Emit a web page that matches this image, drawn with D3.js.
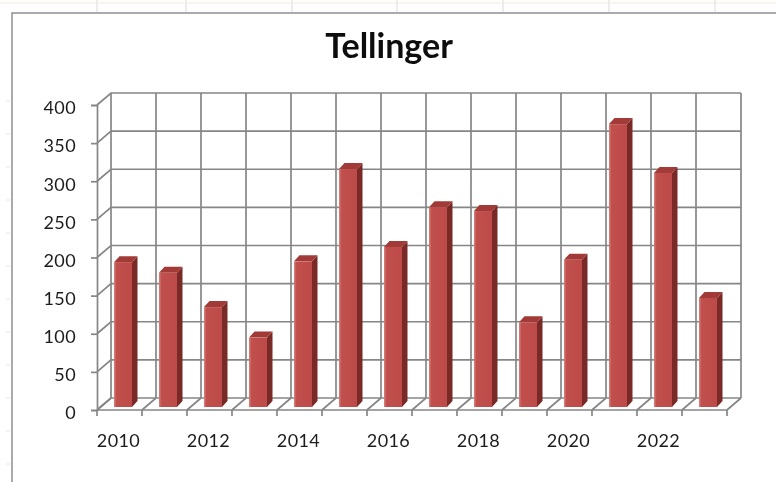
<!DOCTYPE html>
<html>
<head>
<meta charset="utf-8">
<script src="https://cdn.jsdelivr.net/npm/d3@7"></script>
<style>
  html, body { margin: 0; padding: 0; background: #fff; }
  svg { display: block; }
  text { font-family: Lato, "Open Sans", sans-serif; fill: #222; }
</style>
</head>
<body>
<div id="chart"></div>
<script>
// values
var years = [2010, 2011, 2012, 2013, 2014, 2015, 2016, 2017, 2018, 2019, 2020, 2021, 2022, 2023];
var counts = [190, 176, 131, 91, 191, 312, 210, 262, 257, 111, 193, 371, 307, 143];
var yTicks = [0, 50, 100, 150, 200, 250, 300, 350, 400];
var sheetCols = [97, 186, 292, 397, 503, 609, 715];
var sheetRows = [21, 54, 87, 120, 153, 186, 219, 252, 285, 318, 351, 384, 417, 450];

var width = 776, height = 482;
var depthX = 14, depthY = -12;   // how far the back wall is pushed
var barW = 18, sideW = 5.5, sideH = 6;

var svg = d3.select("#chart").append("svg")
  .attr("width", width).attr("height", height);

var defs = svg.append("defs");
defs.append("filter").attr("id", "soft")
  .append("feGaussianBlur").attr("stdDeviation", 0.5);
var grad = defs.append("linearGradient").attr("id", "barFront");
grad.append("stop").attr("offset", "0%").attr("stop-color", "#d8837f");
grad.append("stop").attr("offset", "14%").attr("stop-color", "#c0504d");
grad.append("stop").attr("offset", "100%").attr("stop-color", "#bd4b48");

var root = svg.append("g").attr("filter", "url(#soft)");

// spreadsheet behind the chart
root.selectAll(".cell").data(sheetCols).enter().append("line")
  .attr("x1", function(d) { return d; }).attr("x2", function(d) { return d; })
  .attr("y1", 0).attr("y2", 12)
  .attr("stroke", "#d9d9d9");
root.append("line").attr("x1", 0).attr("x2", width).attr("y1", 3).attr("y2", 3)
  .attr("stroke", "#f6e9dc");
root.selectAll(".row").data(sheetRows).enter().append("line")
  .attr("x1", 6).attr("x2", 10)
  .attr("y1", function(d) { return d + 80; }).attr("y2", function(d) { return d + 80; })
  .attr("stroke", "#e6e6e6");

// chart frame
root.append("path").attr("d", "M12,482V13H776")
  .attr("fill", "none").attr("stroke", "#8f8f8f").attr("stroke-width", 1.5);

var x = d3.scaleBand().domain(years).range([97, 727]);
var y = d3.scaleLinear().domain([0, 400]).range([410, 105]);
var backL = x.range()[0] + depthX, backR = x.range()[1] + depthX;

var grid = root.append("g").attr("fill", "none").attr("stroke", "#868686").attr("stroke-width", 1.7);

// back wall horizontals and the slanted bits on the side wall
yTicks.forEach(function(t) {
  grid.append("path").attr("d", d3.line()([
    [x.range()[0], y(t)], [backL, y(t) + depthY], [backR, y(t) + depthY]
  ]));
});

// back wall verticals + floor lines
years.concat(["end"]).forEach(function(yr) {
  var px = yr === "end" ? x.range()[1] : x(yr);
  grid.append("line")
    .attr("x1", px + depthX).attr("x2", px + depthX)
    .attr("y1", y(400) + depthY).attr("y2", y(0) + depthY);
  grid.append("line")
    .attr("x1", px).attr("x2", px + depthX)
    .attr("y1", y(0)).attr("y2", y(0) + depthY);
});

// bars
var bars = root.selectAll(".bar").data(years).enter().append("g")
  .attr("transform", function(d) {
    return "translate(" + (x(d) + (x.bandwidth() - barW) / 2 + 3.5) + ",0)";
  });
var base = y(0) - 3;
function barTop(i) { return base - (y(0) - y(counts[i])); }

bars.append("path").attr("fill", "#7a2a28")
  .attr("d", function(d, i) {
    return d3.line()([[barW, barTop(i)], [barW + sideW, barTop(i) - sideH], [barW + sideW, base - sideH], [barW, base]]);
  });
bars.append("path").attr("fill", "#a23a37")
  .attr("d", function(d, i) {
    return d3.line().curve(d3.curveLinearClosed)([[0, barTop(i)], [sideW, barTop(i) - sideH], [barW + sideW, barTop(i) - sideH], [barW, barTop(i)]]);
  });
bars.append("rect")
  .attr("x", 0).attr("width", barW)
  .attr("y", function(d, i) { return barTop(i); })
  .attr("height", function(d, i) { return base - barTop(i); })
  .attr("fill", "url(#barFront)");

// axes
var yAxis = d3.axisLeft(y).tickValues(yTicks).tickSize(6).tickPadding(15);
var yG = root.append("g").attr("transform", "translate(" + x.range()[0] + ",0)").call(yAxis);
var xAxis = d3.axisBottom(x)
  .tickValues(years.filter(function(d, i) { return i % 2 === 0; }))
  .tickSize(0).tickPadding(24).tickFormat(d3.format("d"));
var xG = root.append("g").attr("transform", "translate(0," + y(0) + ")").call(xAxis);
[yG, xG].forEach(function(g) {
  g.selectAll("text").attr("font-size", 18).attr("letter-spacing", 0.4)
    .style("font-family", "Lato, sans-serif").style("fill", "#1c1c1c");
  g.selectAll(".domain, .tick line").attr("stroke", "#868686").attr("stroke-width", 1.7);
});
yG.selectAll("text").attr("y", 3);
xG.selectAll("text").attr("x", -1);
xG.select(".domain").remove();
root.append("line").attr("x1", x.range()[0]).attr("x2", x.range()[1])
  .attr("y1", y(0)).attr("y2", y(0)).attr("stroke", "#868686").attr("stroke-width", 1.7);
root.selectAll(".xtick").data(years.concat(["end"])).enter().append("line")
  .attr("x1", function(d) { return d === "end" ? x.range()[1] : x(d); })
  .attr("x2", function(d) { return d === "end" ? x.range()[1] : x(d); })
  .attr("y1", y(0)).attr("y2", y(0) + 6)
  .attr("stroke", "#868686").attr("stroke-width", 1.7);

root.append("text").attr("x", 389).attr("y", 58)
  .attr("text-anchor", "middle").attr("font-size", 34).attr("font-weight", 700)
  .style("fill", "#0c0c0c").text("Tellinger");
</script>
</body>
</html>
